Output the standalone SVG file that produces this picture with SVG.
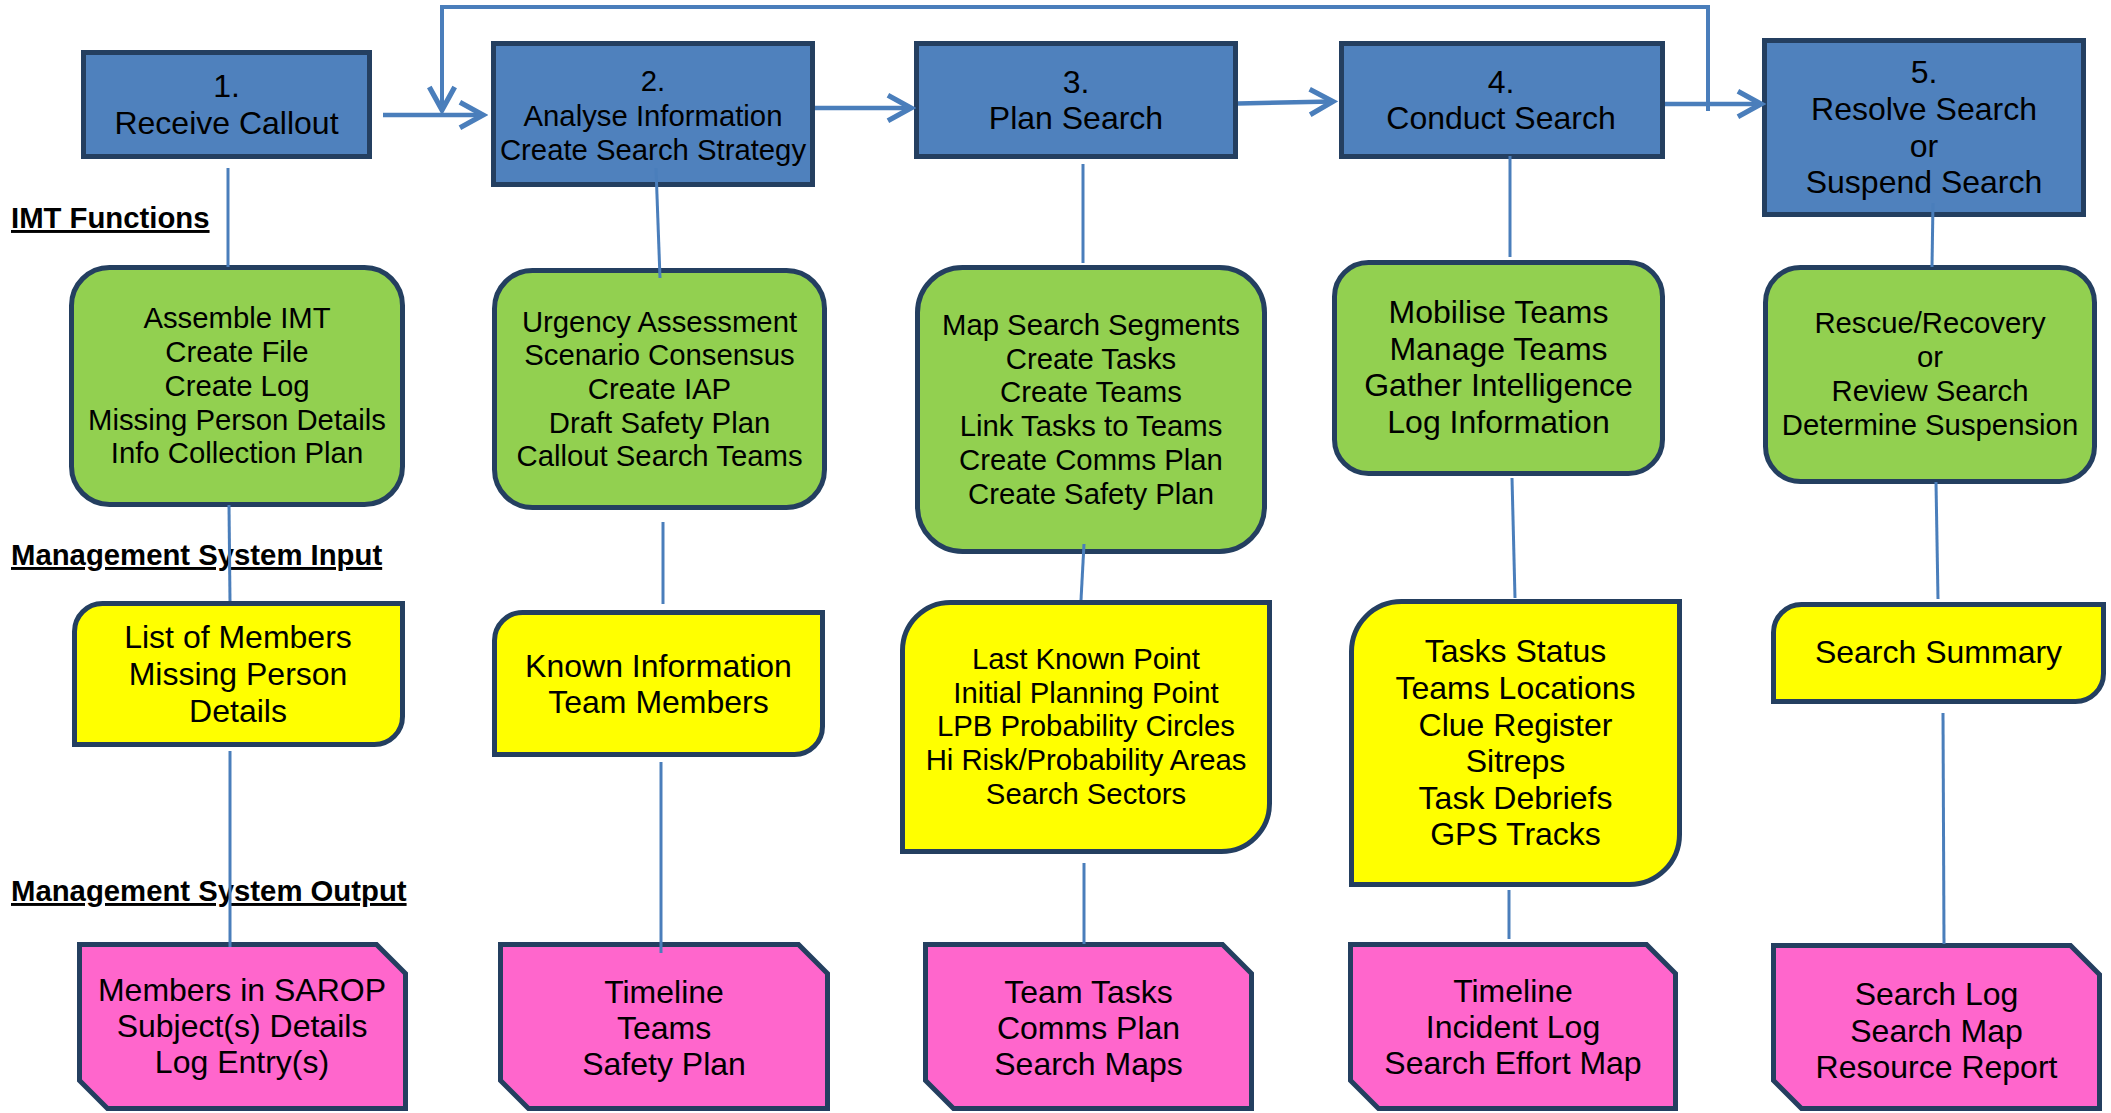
<svg xmlns="http://www.w3.org/2000/svg" width="2111" height="1113" viewBox="0 0 2111 1113">
<style>
text{font-family:"Liberation Sans",Arial,sans-serif;fill:#000;text-anchor:middle}
.t32{font-size:32px}
.t29{font-size:29.3px}
.sec{font-size:29.3px;font-weight:bold;text-anchor:start;text-decoration:underline}
.blue{fill:#4F81BD;stroke:#243F60;stroke-width:5}
.green{fill:#92D050;stroke:#243F60;stroke-width:5}
.yellow{fill:#FFFF00;stroke:#243F60;stroke-width:5}
.pink{fill:#FF66CC;stroke:#243F60;stroke-width:5}
.con{stroke:#4A7EBB;stroke-width:3;fill:none}
.arr{stroke:#4A7EBB;stroke-width:4.5;fill:none;marker-end:url(#chev)}
.fb{stroke:#4A7EBB;stroke-width:4;fill:none;marker-end:url(#chev)}
</style>
<defs>
<marker id="chev" markerUnits="userSpaceOnUse" markerWidth="30" markerHeight="30" viewBox="-22 -13 26 26" refX="0" refY="0" orient="auto">
<path d="M-20,-11 L0,0 L-20,11" fill="none" stroke="#4A7EBB" stroke-width="4.5"/>
</marker>
</defs>
<rect width="2111" height="1113" fill="#fff"/>

<g id="labels">
<text class="sec" x="11" y="228">IMT Functions</text>
<text class="sec" x="11" y="565">Management System Input</text>
<text class="sec" x="11" y="901">Management System Output</text>
</g>

<g id="step1"><rect class="blue" x="83.5" y="52.5" width="286" height="104"/>
<text class="t32" x="226.5" y="97">1.</text><text class="t32" x="226.5" y="134">Receive Callout</text></g>
<g id="step2"><rect class="blue" x="493.5" y="43.5" width="319" height="141"/>
<text class="t29" x="653" y="91">2.</text><text class="t29" x="653" y="126">Analyse Information</text><text class="t29" x="653" y="160">Create Search Strategy</text></g>
<g id="step3"><rect class="blue" x="916.5" y="43.5" width="319" height="113"/>
<text class="t32" x="1076" y="93">3.</text><text class="t32" x="1076" y="129">Plan Search</text></g>
<g id="step4"><rect class="blue" x="1341.5" y="43.5" width="321" height="113"/>
<text class="t32" x="1501" y="93">4.</text><text class="t32" x="1501" y="129">Conduct Search</text></g>
<g id="step5"><rect class="blue" x="1764.5" y="40.5" width="319" height="174"/>
<text class="t32" x="1924" y="83">5.</text><text class="t32" x="1924" y="120">Resolve Search</text><text class="t32" x="1924" y="157">or</text><text class="t32" x="1924" y="193">Suspend Search</text></g>

<g id="imt1"><rect class="green" x="71.5" y="267.5" width="331" height="237" rx="38"/>
<text class="t29" x="237" y="328">Assemble IMT</text><text class="t29" x="237" y="362">Create File</text><text class="t29" x="237" y="395.5">Create Log</text><text class="t29" x="237" y="429.5">Missing Person Details</text><text class="t29" x="237" y="463">Info Collection Plan</text></g>
<g id="imt2"><rect class="green" x="494.5" y="270.5" width="330" height="237" rx="38"/>
<text class="t29" x="659.5" y="331.5">Urgency Assessment</text><text class="t29" x="659.5" y="365">Scenario Consensus</text><text class="t29" x="659.5" y="399">Create IAP</text><text class="t29" x="659.5" y="432.5">Draft Safety Plan</text><text class="t29" x="659.5" y="466">Callout Search Teams</text></g>
<g id="imt3"><rect class="green" x="917.5" y="267.5" width="347" height="284" rx="45"/>
<text class="t29" x="1091" y="335">Map Search Segments</text><text class="t29" x="1091" y="368.7">Create Tasks</text><text class="t29" x="1091" y="402.4">Create Teams</text><text class="t29" x="1091" y="436">Link Tasks to Teams</text><text class="t29" x="1091" y="469.8">Create Comms Plan</text><text class="t29" x="1091" y="503.5">Create Safety Plan</text></g>
<g id="imt4"><rect class="green" x="1334.5" y="262.5" width="328" height="211" rx="34"/>
<text class="t32" x="1498.5" y="322.7">Mobilise Teams</text><text class="t32" x="1498.5" y="359.5">Manage Teams</text><text class="t32" x="1498.5" y="396.3">Gather Intelligence</text><text class="t32" x="1498.5" y="433">Log Information</text></g>
<g id="imt5"><rect class="green" x="1765.5" y="267.5" width="329" height="214" rx="35"/>
<text class="t29" x="1930" y="333">Rescue/Recovery</text><text class="t29" x="1930" y="367">or</text><text class="t29" x="1930" y="401">Review Search</text><text class="t29" x="1930" y="435">Determine Suspension</text></g>

<g id="input1"><path class="yellow" d="M102.5,603.5 H402.5 V716.5 A28,28 0 0 1 374.5,744.5 H74.5 V631.5 A28,28 0 0 1 102.5,603.5 Z"/>
<text class="t32" x="238" y="648">List of Members</text><text class="t32" x="238" y="685">Missing Person</text><text class="t32" x="238" y="722">Details</text></g>
<g id="input2"><path class="yellow" d="M522.5,612.5 H822.5 V726.5 A28,28 0 0 1 794.5,754.5 H494.5 V640.5 A28,28 0 0 1 522.5,612.5 Z"/>
<text class="t32" x="658.5" y="677">Known Information</text><text class="t32" x="658.5" y="713">Team Members</text></g>
<g id="input3"><path class="yellow" d="M950.5,602.5 H1269.5 V803.5 A48,48 0 0 1 1221.5,851.5 H902.5 V650.5 A48,48 0 0 1 950.5,602.5 Z"/>
<text class="t29" x="1086" y="669">Last Known Point</text><text class="t29" x="1086" y="702.5">Initial Planning Point</text><text class="t29" x="1086" y="736">LPB Probability Circles</text><text class="t29" x="1086" y="770">Hi Risk/Probability Areas</text><text class="t29" x="1086" y="804">Search Sectors</text></g>
<g id="input4"><path class="yellow" d="M1401.5,601.5 H1679.5 V834.5 A50,50 0 0 1 1629.5,884.5 H1351.5 V651.5 A50,50 0 0 1 1401.5,601.5 Z"/>
<text class="t32" x="1515.5" y="662">Tasks Status</text><text class="t32" x="1515.5" y="699">Teams Locations</text><text class="t32" x="1515.5" y="736">Clue Register</text><text class="t32" x="1515.5" y="772">Sitreps</text><text class="t32" x="1515.5" y="809">Task Debriefs</text><text class="t32" x="1515.5" y="845">GPS Tracks</text></g>
<g id="input5"><path class="yellow" d="M1801.5,604.5 H2103.5 V673.5 A28,28 0 0 1 2075.5,701.5 H1773.5 V632.5 A28,28 0 0 1 1801.5,604.5 Z"/>
<text class="t32" x="1938.5" y="663">Search Summary</text></g>

<g id="output1"><path class="pink" d="M79.5,944.5 H376.5 L405.5,973.5 V1108.5 H107.5 L79.5,1080.5 Z"/>
<text class="t32" x="242" y="1001">Members in SAROP</text><text class="t32" x="242" y="1037">Subject(s) Details</text><text class="t32" x="242" y="1073">Log Entry(s)</text></g>
<g id="output2"><path class="pink" d="M500.5,944.5 H798.5 L827.5,973.5 V1108.5 H528.5 L500.5,1080.5 Z"/>
<text class="t32" x="664" y="1003">Timeline</text><text class="t32" x="664" y="1039">Teams</text><text class="t32" x="664" y="1075">Safety Plan</text></g>
<g id="output3"><path class="pink" d="M925.5,944.5 H1222.5 L1251.5,973.5 V1108.5 H953.5 L925.5,1080.5 Z"/>
<text class="t32" x="1088.5" y="1003">Team Tasks</text><text class="t32" x="1088.5" y="1039">Comms Plan</text><text class="t32" x="1088.5" y="1075">Search Maps</text></g>
<g id="output4"><path class="pink" d="M1350.5,944.5 H1646.5 L1675.5,973.5 V1108.5 H1378.5 L1350.5,1080.5 Z"/>
<text class="t32" x="1513" y="1001.5">Timeline</text><text class="t32" x="1513" y="1037.5">Incident Log</text><text class="t32" x="1513" y="1073.5">Search Effort Map</text></g>
<g id="output5"><path class="pink" d="M1773.5,945.5 H2070.5 L2099.5,974.5 V1108.5 H1801.5 L1773.5,1080.5 Z"/>
<text class="t32" x="1936.5" y="1005">Search Log</text><text class="t32" x="1936.5" y="1041.5">Search Map</text><text class="t32" x="1936.5" y="1078">Resource Report</text></g>

<g id="connectors">
<path class="arr" d="M383,115 H483"/>
<path class="arr" d="M815,108 H911"/>
<path class="arr" d="M1238,103.5 L1333,101.5"/>
<path class="arr" d="M1665,104 H1761"/>
<path class="fb" d="M1708,111 V7 H442 V110"/>
<path class="con" d="M228,168 V267"/>
<path class="con" d="M229,505 L230,601"/>
<path class="con" d="M230,751 V947"/>
<path class="con" d="M656,168 L660,278"/>
<path class="con" d="M663,522 V604"/>
<path class="con" d="M661,762 V953"/>
<path class="con" d="M1083,164 V263"/>
<path class="con" d="M1084,544 L1081,600"/>
<path class="con" d="M1084,863 V944"/>
<path class="con" d="M1510,156 V257"/>
<path class="con" d="M1512,478 L1515,598"/>
<path class="con" d="M1509,890 V939"/>
<path class="con" d="M1933,203 L1932,267"/>
<path class="con" d="M1936,482 L1938,599"/>
<path class="con" d="M1943,713 L1944,944"/>
</g>
</svg>
